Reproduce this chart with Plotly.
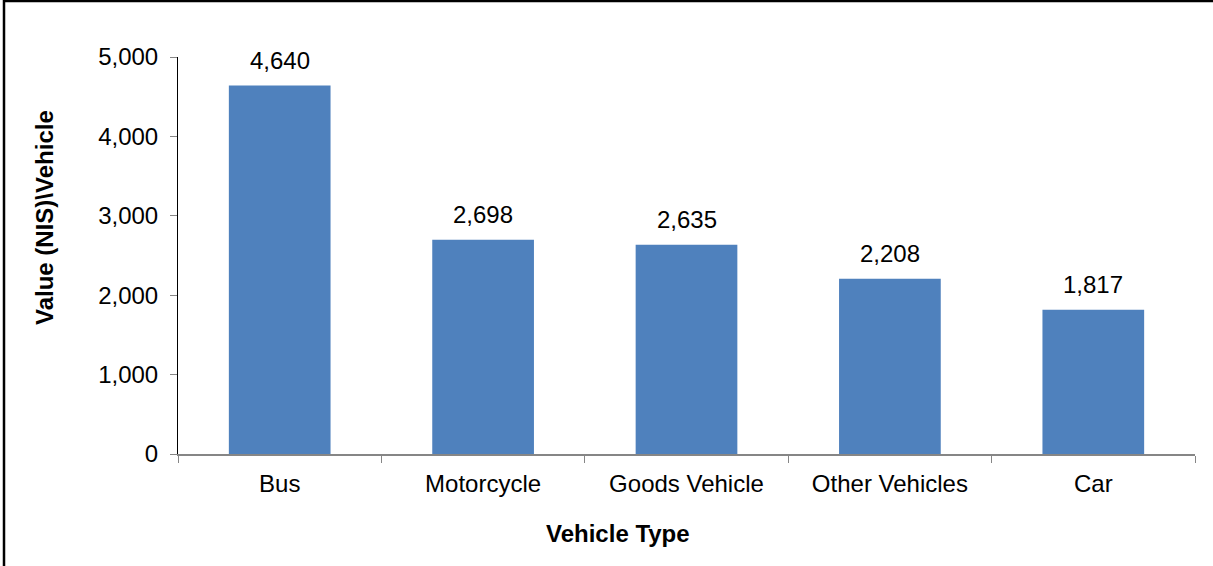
import plotly.graph_objects as go

vehicle_types = ['Bus', 'Motorcycle', 'Goods Vehicle', 'Other Vehicles', 'Car']
values = [4640, 2698, 2635, 2208, 1817]
y_ticks = [0, 1000, 2000, 3000, 4000, 5000]

BAR = '#4F81BD'
AXIS_GREY = '#868686'
FONT = 'Liberation Sans, Arial, sans-serif'

W, H = 1213, 566
L, R, T, B = 178, 18, 57, 112
pw, ph = W - L - R, H - T - B


def px_x(p):
    return (p - L) / pw


def px_y(p):
    return (H - B - p) / ph


fig = go.Figure(go.Bar(
    x=vehicle_types, y=values,
    marker=dict(color=BAR, line=dict(width=0)),
    hoverinfo='x+y',
))

# data labels above bars
for cat, v in zip(vehicle_types, values):
    fig.add_annotation(
        x=cat, y=v, text=f'{v:,}', showarrow=False,
        yanchor='bottom', yshift=10,
        font=dict(family=FONT, size=24, color='black'),
    )

# axis titles
fig.add_annotation(
    x=px_x(618), y=px_y(533), xref='paper', yref='paper',
    xanchor='center', yanchor='middle',
    text='<b>Vehicle Type</b>', showarrow=False,
    font=dict(family=FONT, size=24, color='black'),
)
fig.add_annotation(
    x=px_x(44), y=px_y(218), xref='paper', yref='paper',
    xanchor='center', yanchor='middle',
    text='<b>Value (NIS)&#92;Vehicle</b>', showarrow=False, textangle=-90,
    font=dict(family=FONT, size=24, color='black'),
)

# outer frame (only top/left edges visible in the crop)
fig.add_shape(
    type='rect', xref='paper', yref='paper',
    x0=px_x(4), x1=px_x(W + 10), y0=px_y(H + 10), y1=px_y(1),
    line=dict(color='black', width=2.5), layer='above',
)

fig.update_layout(
    width=W, height=H,
    margin=dict(l=L, r=R, t=T, b=B, autoexpand=False),
    plot_bgcolor='white', paper_bgcolor='white',
    font=dict(family=FONT, size=24, color='black'),
    bargap=0.5,
    showlegend=False,
    xaxis=dict(
        showline=True, linecolor=AXIS_GREY, linewidth=1.5,
        ticks='outside', ticklen=7, tickcolor=AXIS_GREY,
        tickson='boundaries', showgrid=False,
        ticklabelstandoff=7,
    ),
    yaxis=dict(
        range=[0, 5000], tickvals=y_ticks, tickformat=',',
        showline=True, linecolor='black', linewidth=1,
        ticks='outside', ticklen=7, tickcolor=AXIS_GREY,
        showgrid=False, zeroline=False,
        ticklabelstandoff=7,
    ),
)

fig.write_html('out.html', config={'displayModeBar': False},
               post_script="document.body.style.margin='0px';")
